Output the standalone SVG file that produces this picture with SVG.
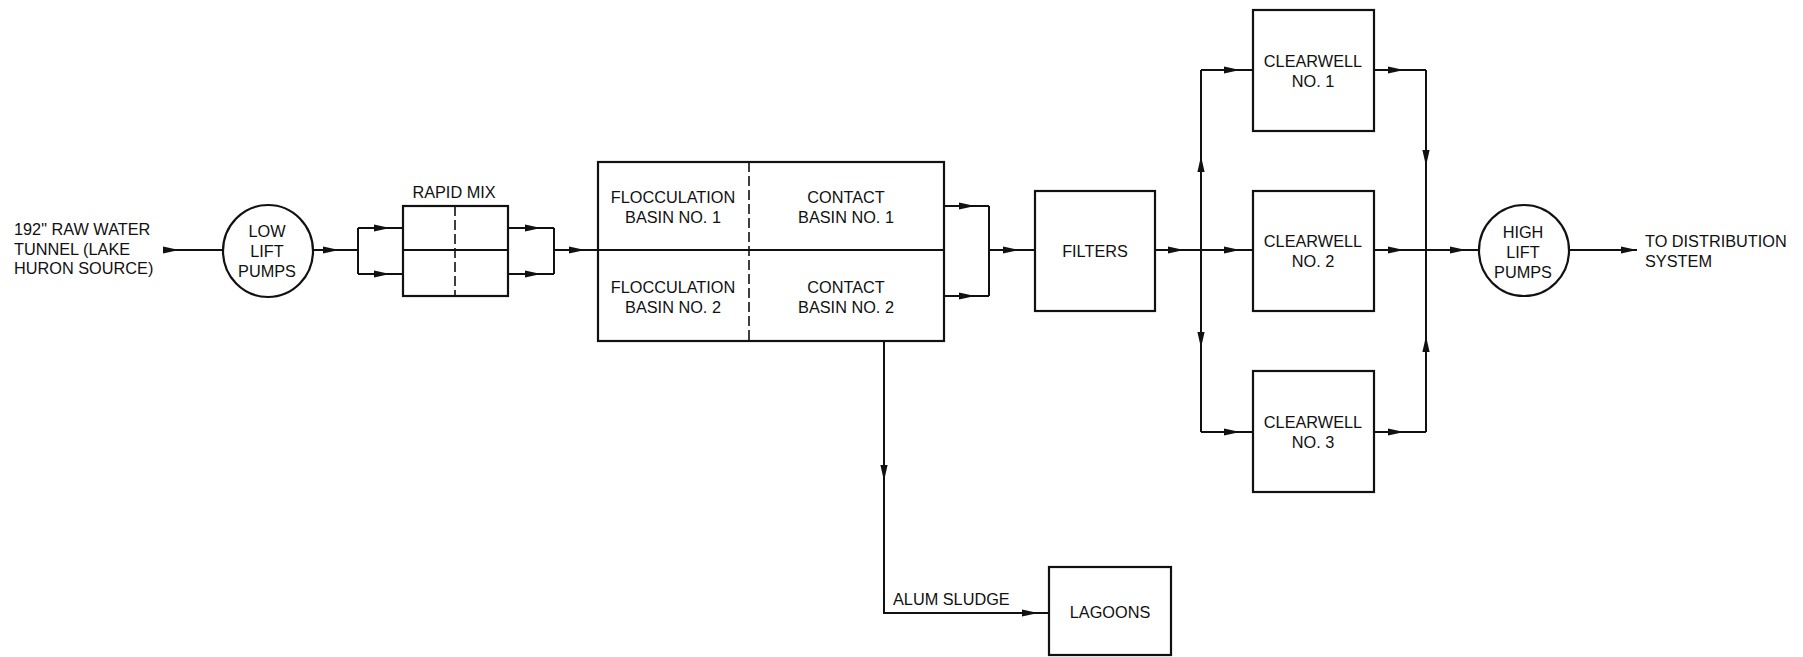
<svg xmlns="http://www.w3.org/2000/svg" xmlns:xlink="http://www.w3.org/1999/xlink" width="1803" height="657" viewBox="0 0 1803 657">
<style>
  .box{fill:none;stroke:#111;stroke-width:2.2}
  .ln{fill:none;stroke:#111;stroke-width:2}
  .dash{fill:none;stroke:#111;stroke-width:1.6;stroke-dasharray:10 4}
  text{font-family:"Liberation Sans",Arial,sans-serif;font-size:16.3px;fill:#111}
  .c{text-anchor:middle}
</style>
<defs>
  <path id="arr" d="M0,0 L-16,-3.6 L-16,3.6 Z" fill="#111"/>
</defs>
<rect width="1803" height="657" fill="#fff"/>

<g id="source">
  <text x="14" y="235">192" RAW WATER</text>
  <text x="14" y="255">TUNNEL (LAKE</text>
  <text x="14" y="274">HURON SOURCE)</text>
</g>

<g id="low-lift-pumps">
  <ellipse class="box" cx="268" cy="251" rx="45" ry="46"/>
  <text class="c" x="267" y="237">LOW</text>
  <text class="c" x="267" y="257">LIFT</text>
  <text class="c" x="267" y="277">PUMPS</text>
</g>

<g id="rapid-mix">
  <text class="c" x="454" y="198">RAPID MIX</text>
  <rect class="box" x="403" y="206" width="105" height="90"/>
  <line class="ln" x1="403" y1="250" x2="508" y2="250"/>
  <line class="dash" x1="455" y1="206" x2="455" y2="296"/>
</g>

<g id="basins">
  <rect class="box" x="598" y="162" width="346" height="179"/>
  <line class="ln" x1="598" y1="250" x2="944" y2="250"/>
  <line class="dash" x1="749" y1="162" x2="749" y2="341"/>
  <text class="c" x="673" y="203">FLOCCULATION</text>
  <text class="c" x="673" y="223">BASIN NO. 1</text>
  <text class="c" x="846" y="203">CONTACT</text>
  <text class="c" x="846" y="223">BASIN NO. 1</text>
  <text class="c" x="673" y="293">FLOCCULATION</text>
  <text class="c" x="673" y="313">BASIN NO. 2</text>
  <text class="c" x="846" y="293">CONTACT</text>
  <text class="c" x="846" y="313">BASIN NO. 2</text>
</g>

<g id="filters">
  <rect class="box" x="1035" y="191" width="120" height="120"/>
  <text class="c" x="1095" y="257">FILTERS</text>
</g>

<g id="clearwell-1">
  <rect class="box" x="1253" y="10" width="121" height="121"/>
  <text class="c" x="1313" y="67">CLEARWELL</text>
  <text class="c" x="1313" y="87">NO. 1</text>
</g>
<g id="clearwell-2">
  <rect class="box" x="1253" y="191" width="121" height="120"/>
  <text class="c" x="1313" y="247">CLEARWELL</text>
  <text class="c" x="1313" y="267">NO. 2</text>
</g>
<g id="clearwell-3">
  <rect class="box" x="1253" y="371" width="121" height="121"/>
  <text class="c" x="1313" y="428">CLEARWELL</text>
  <text class="c" x="1313" y="448">NO. 3</text>
</g>

<g id="high-lift-pumps">
  <ellipse class="box" cx="1524" cy="250.5" rx="45" ry="45.5"/>
  <text class="c" x="1523" y="238">HIGH</text>
  <text class="c" x="1523" y="258">LIFT</text>
  <text class="c" x="1523" y="278">PUMPS</text>
</g>

<g id="distribution">
  <text x="1645" y="247">TO DISTRIBUTION</text>
  <text x="1645" y="267">SYSTEM</text>
</g>

<g id="lagoons">
  <rect class="box" x="1049" y="567" width="122" height="88"/>
  <text class="c" x="1110" y="618">LAGOONS</text>
</g>

<g id="connectors">
  <path class="ln" d="M163,250 H223"/>
  <path class="ln" d="M313,250 H358 M358,228 V274 M358,228 H403 M358,274 H403"/>
  <path class="ln" d="M508,228 H554 M508,274 H554 M554,228 V274 M554,250 H598"/>
  <path class="ln" d="M944,206 H989 M944,296 H989 M989,206 V296 M989,250 H1035"/>
  <path class="ln" d="M1155,250 H1253 M1201,70 V432 M1201,70 H1253 M1201,432 H1253"/>
  <path class="ln" d="M1374,70 H1426 M1374,250 H1479 M1374,432 H1426 M1426,70 V432"/>
  <path class="ln" d="M1569,250 H1637"/>
  <path class="ln" d="M884,341 V613 H1049"/>
  <text x="893" y="605">ALUM SLUDGE</text>

  <use xlink:href="#arr" transform="translate(179,250)"/>
  <use xlink:href="#arr" transform="translate(339,250)"/>
  <use xlink:href="#arr" transform="translate(390,228)"/>
  <use xlink:href="#arr" transform="translate(390,274)"/>
  <use xlink:href="#arr" transform="translate(541,228)"/>
  <use xlink:href="#arr" transform="translate(541,274)"/>
  <use xlink:href="#arr" transform="translate(585,250)"/>
  <use xlink:href="#arr" transform="translate(975,206)"/>
  <use xlink:href="#arr" transform="translate(975,296)"/>
  <use xlink:href="#arr" transform="translate(1019,250)"/>
  <use xlink:href="#arr" transform="translate(1184,250)"/>
  <use xlink:href="#arr" transform="translate(1240,250)"/>
  <use xlink:href="#arr" transform="translate(1240,70)"/>
  <use xlink:href="#arr" transform="translate(1240,432)"/>
  <use xlink:href="#arr" transform="translate(1201,156) rotate(-90)"/>
  <use xlink:href="#arr" transform="translate(1201,348) rotate(90)"/>
  <use xlink:href="#arr" transform="translate(1404,70)"/>
  <use xlink:href="#arr" transform="translate(1404,250)"/>
  <use xlink:href="#arr" transform="translate(1404,432)"/>
  <use xlink:href="#arr" transform="translate(1426,166) rotate(90)"/>
  <use xlink:href="#arr" transform="translate(1426,336) rotate(-90)"/>
  <use xlink:href="#arr" transform="translate(1466,250)"/>
  <use xlink:href="#arr" transform="translate(1637,250)"/>
  <use xlink:href="#arr" transform="translate(884,481) rotate(90)"/>
  <use xlink:href="#arr" transform="translate(1038,613)"/>
</g>
</svg>
